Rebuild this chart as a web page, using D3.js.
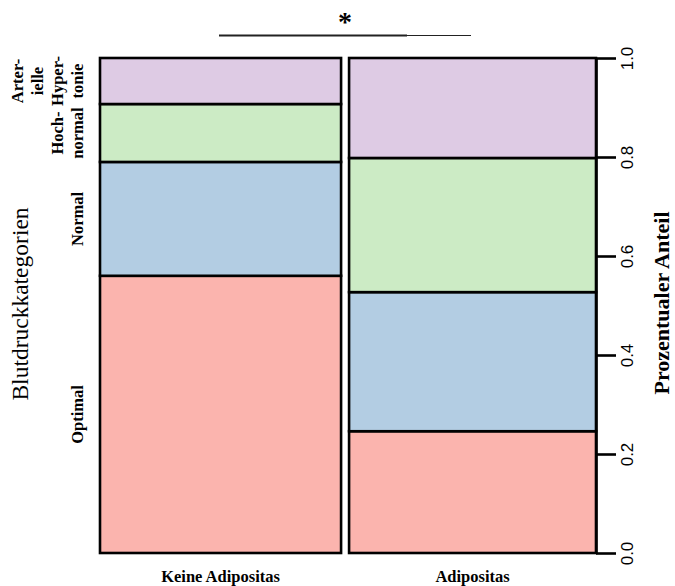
<!DOCTYPE html>
<html>
<head>
<meta charset="utf-8">
<script src="https://cdn.jsdelivr.net/npm/d3@7"></script>
<style>
  html, body { margin: 0; padding: 0; background: #fff; }
  svg { display: block; }
</style>
</head>
<body>
<svg id="chart" width="675" height="586"></svg>
<script>
// Groups along the x axis and their share of all cases (column widths)
const groups = ["Keine Adipositas", "Adipositas"];
const groupShare = [0.494, 0.506];

// Blood pressure categories, bottom to top
const categories = ["Optimal", "Normal", "Hochnormal", "Arterielle Hypertonie"];
const categoryLabels = [["Optimal"], ["Normal"], ["Hoch-", "normal"], ["Arter-", "ielle", "Hyper-", "tonie"]];
const categoryColors = ["#FBB4AE", "#B3CDE3", "#CCEBC5", "#DECBE4"];

// Proportion of each category within a group
const keineAdipositas = [0.560, 0.230, 0.117, 0.093];
const adipositas = [0.246, 0.281, 0.271, 0.202];
const groupValues = [keineAdipositas, adipositas];

const yTicks = [0, 0.2, 0.4, 0.6, 0.8, 1.0];
const significance = "*";

const svg = d3.select("#chart");
const serif = "'Liberation Serif', 'Times New Roman', serif";
const sans = "'Liberation Sans', Arial, sans-serif";

const plotLeft = 100, plotRight = 596, gap = 8;
const y = d3.scaleLinear().domain([0, 1]).range([553, 58]);

// Column widths proportional to group size
const xShare = d3.scaleLinear().domain([0, 1]).range([plotLeft, plotRight - gap * (groups.length - 1)]);
let cum = 0;
const columns = groups.map((g, i) => {
  const x0 = xShare(cum) + gap * i;
  cum += groupShare[i];
  const x1 = xShare(cum) + gap * i;
  return { name: g, x0, x1, values: groupValues[i] };
});

// Stacked tiles
columns.forEach(col => {
  const stack = d3.cumsum(col.values);
  const tiles = col.values.map((v, j) => ({
    lo: j === 0 ? 0 : stack[j - 1], hi: stack[j], color: categoryColors[j]
  }));
  const g = svg.append("g");
  g.selectAll("rect").data(tiles).join("rect")
    .attr("x", col.x0)
    .attr("width", col.x1 - col.x0)
    .attr("y", d => y(d.hi))
    .attr("height", d => y(d.lo) - y(d.hi))
    .attr("fill", d => d.color)
    .attr("stroke", "#000")
    .attr("stroke-width", 2.6);
});

// Right axis
const axis = d3.axisRight(y).tickValues(yTicks).tickFormat(d3.format(".1f")).tickSize(20).tickSizeOuter(0);
const ax = svg.append("g").attr("transform", `translate(${plotRight},0)`).call(axis);
ax.select(".domain").attr("stroke", "#000").attr("stroke-width", 2.6);
ax.selectAll(".tick line").attr("stroke", "#000").attr("stroke-width", 2.6);
ax.selectAll(".tick text")
  .attr("x", null).attr("dy", null)
  .attr("transform", "translate(37,0) rotate(-90)")
  .attr("text-anchor", "middle")
  .attr("font-family", sans)
  .attr("font-size", 17)
  .attr("fill", "#000");

// Category labels on the left, centred on the first column's tiles
const firstStack = d3.cumsum(keineAdipositas);
categoryLabels.forEach((lines, j) => {
  const lo = j === 0 ? 0 : firstStack[j - 1];
  const mid = y((lo + firstStack[j]) / 2);
  const n = lines.length;
  lines.forEach((line, k) => {
    const bx = 83 - (n - 1 - k) * 20;
    svg.append("text")
      .attr("transform", `translate(${bx},${mid}) rotate(-90)`)
      .attr("text-anchor", "middle")
      .attr("font-family", serif)
      .attr("font-weight", "bold")
      .attr("font-size", 16.5)
      .text(line);
  });
});

// Group labels below the columns
svg.selectAll("text.group").data(columns).join("text")
  .attr("class", "group")
  .attr("x", d => (d.x0 + d.x1) / 2)
  .attr("y", 582)
  .attr("text-anchor", "middle")
  .attr("font-family", serif)
  .attr("font-weight", "bold")
  .attr("font-size", 16.5)
  .text(d => d.name);

// Axis titles
svg.append("text")
  .attr("transform", `translate(28,304) rotate(-90)`)
  .attr("text-anchor", "middle")
  .attr("font-family", serif)
  .attr("font-size", 23.5)
  .text("Blutdruckkategorien");

svg.append("text")
  .attr("transform", `translate(669,303) rotate(-90)`)
  .attr("text-anchor", "middle")
  .attr("font-family", serif)
  .attr("font-weight", "bold")
  .attr("font-size", 22)
  .text("Prozentualer Anteil");

// Significance bracket
svg.append("line")
  .attr("x1", 219).attr("x2", 471).attr("y1", 35.5).attr("y2", 35.5)
  .attr("stroke", "#222").attr("stroke-width", 1.2);
svg.append("line")
  .attr("x1", 219).attr("x2", 407).attr("y1", 35.5).attr("y2", 35.5)
  .attr("stroke", "#222").attr("stroke-width", 1.8);
svg.append("text")
  .attr("x", 345).attr("y", 31)
  .attr("text-anchor", "middle")
  .attr("font-family", serif)
  .attr("font-weight", "bold")
  .attr("font-size", 28)
  .text(significance);
</script>
</body>
</html>
